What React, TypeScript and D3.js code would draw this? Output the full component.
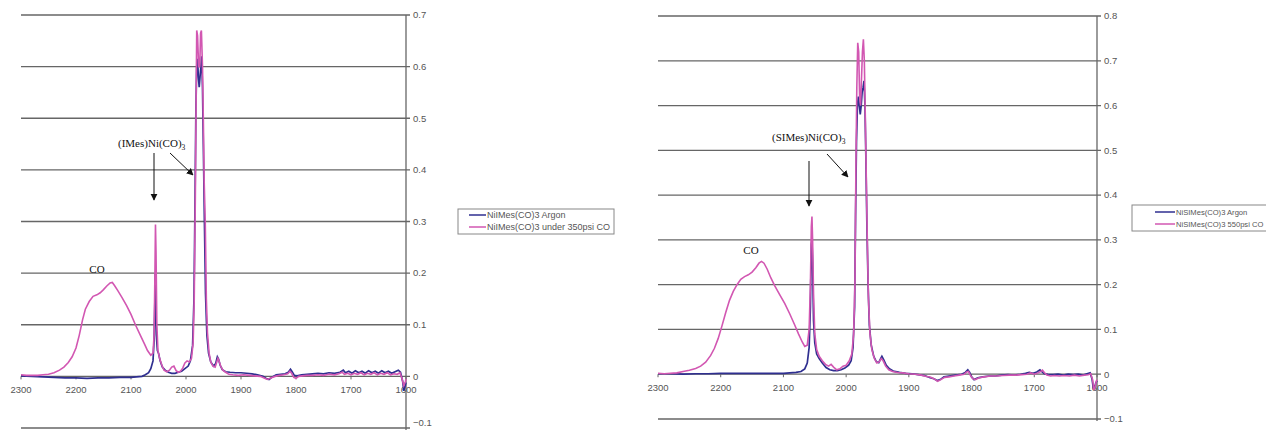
import React from 'react';
import * as d3 from 'd3';

type Pt = [number, number];

// wavenumber (cm-1), absorbance
const imesArgon: Pt[] = [
  [2300, 0.001], [2280, 0.0], [2260, -0.001], [2240, -0.002], [2220, -0.003], [2200, -0.003], [2180, -0.004],
  [2160, -0.003], [2140, -0.003], [2120, -0.002], [2100, -0.002], [2090, -0.001], [2080, 0.0], [2074, 0.003],
  [2068, 0.007], [2064, 0.015], [2060, 0.03], [2058, 0.07], [2056.5, 0.15], [2056, 0.2], [2055, 0.16],
  [2054, 0.08], [2052, 0.05], [2050, 0.045], [2047, 0.03], [2043, 0.018], [2038, 0.012], [2032, 0.008],
  [2026, 0.006], [2020, 0.006], [2014, 0.008], [2008, 0.01], [2002, 0.015], [1996, 0.02], [1992, 0.03],
  [1988, 0.06], [1985.5, 0.15], [1983.5, 0.35], [1982, 0.52], [1980.5, 0.6], [1979, 0.615], [1977.5, 0.58],
  [1976, 0.56], [1974.5, 0.58], [1973, 0.6], [1971.5, 0.62], [1970, 0.56], [1968.5, 0.45], [1966.5, 0.3],
  [1964.5, 0.16], [1962, 0.08], [1959, 0.045], [1955, 0.028], [1950, 0.02], [1946, 0.025], [1943, 0.038],
  [1941, 0.034], [1938, 0.022], [1934, 0.013], [1928, 0.009], [1920, 0.008], [1910, 0.007], [1900, 0.007],
  [1890, 0.006], [1880, 0.005], [1870, 0.003], [1860, 0.0], [1854, -0.004], [1849, -0.006], [1843, -0.001],
  [1836, 0.003], [1828, 0.004], [1820, 0.005], [1814, 0.008], [1810, 0.014], [1807, 0.009], [1803, 0.002],
  [1798, 0.001], [1790, 0.003], [1780, 0.004], [1770, 0.005], [1760, 0.006], [1750, 0.005], [1740, 0.007],
  [1730, 0.006], [1720, 0.008], [1714, 0.012], [1710, 0.007], [1704, 0.01], [1698, 0.006], [1692, 0.011],
  [1686, 0.007], [1680, 0.01], [1674, 0.006], [1668, 0.011], [1662, 0.007], [1656, 0.01], [1650, 0.006],
  [1644, 0.011], [1638, 0.007], [1632, 0.01], [1626, 0.006], [1620, 0.009], [1614, 0.012], [1610, 0.008],
  [1606, -0.01], [1604, -0.028], [1602, -0.02], [1600, -0.012],
];

const imesCO: Pt[] = [
  [2300, 0.003], [2290, 0.002], [2280, 0.002], [2270, 0.002], [2260, 0.003], [2250, 0.004], [2240, 0.007],
  [2230, 0.012], [2222, 0.018], [2214, 0.027], [2207, 0.038], [2200, 0.055], [2194, 0.08], [2188, 0.11],
  [2183, 0.13], [2176, 0.145], [2169, 0.155], [2162, 0.158], [2156, 0.162], [2150, 0.168], [2144, 0.175],
  [2138, 0.181], [2134, 0.182], [2130, 0.176], [2124, 0.166], [2116, 0.152], [2108, 0.137], [2100, 0.12],
  [2092, 0.1], [2084, 0.082], [2076, 0.064], [2070, 0.05], [2064, 0.041], [2060, 0.045], [2058, 0.08],
  [2056.5, 0.2], [2055.5, 0.294], [2054.5, 0.24], [2053, 0.1], [2051, 0.05], [2048, 0.035], [2044, 0.022],
  [2040, 0.012], [2035, 0.009], [2030, 0.012], [2026, 0.018], [2022, 0.02], [2018, 0.011], [2014, 0.008],
  [2010, 0.01], [2006, 0.016], [2002, 0.026], [1998, 0.03], [1994, 0.028], [1990, 0.035], [1987, 0.065],
  [1985, 0.15], [1983, 0.35], [1981.5, 0.55], [1980.5, 0.67], [1979, 0.66], [1977, 0.6], [1975, 0.6],
  [1973.5, 0.665], [1972, 0.67], [1970, 0.6], [1968.5, 0.5], [1967, 0.38], [1965, 0.3], [1963, 0.15],
  [1961, 0.085], [1958, 0.045], [1955, 0.028], [1951, 0.02], [1947, 0.018], [1944, 0.028], [1942, 0.035],
  [1940, 0.03], [1937, 0.02], [1933, 0.012], [1928, 0.008], [1922, 0.004], [1915, 0.003], [1905, 0.002],
  [1895, 0.003], [1885, 0.002], [1875, 0.001], [1865, 0.0], [1858, -0.003], [1852, -0.006], [1846, -0.003],
  [1838, 0.0], [1830, 0.002], [1822, 0.003], [1815, 0.005], [1811, 0.01], [1808, 0.006], [1804, -0.002],
  [1800, -0.004], [1795, 0.0], [1788, 0.001], [1780, 0.002], [1770, 0.002], [1760, 0.003], [1750, 0.002],
  [1740, 0.004], [1730, 0.003], [1722, 0.005], [1716, 0.008], [1712, 0.004], [1706, 0.006], [1700, 0.003],
  [1694, 0.006], [1688, 0.004], [1682, 0.007], [1676, 0.003], [1670, 0.006], [1664, 0.004], [1658, 0.007],
  [1652, 0.003], [1646, 0.006], [1640, 0.004], [1634, 0.007], [1628, 0.003], [1622, 0.005], [1616, 0.004],
  [1611, 0.007], [1607, -0.005], [1604, -0.018], [1601, -0.01], [1600, -0.005],
];

const simesArgon: Pt[] = [
  [2300, 0.001], [2280, 0.001], [2260, 0.0], [2240, 0.001], [2220, 0.001], [2200, 0.002], [2180, 0.002],
  [2160, 0.002], [2140, 0.002], [2120, 0.002], [2100, 0.002], [2090, 0.003], [2080, 0.004], [2072, 0.006],
  [2066, 0.012], [2062, 0.025], [2059, 0.06], [2057, 0.15], [2055.5, 0.29], [2054.5, 0.3], [2053.5, 0.25],
  [2052, 0.12], [2050, 0.07], [2047, 0.045], [2043, 0.035], [2038, 0.025], [2032, 0.015], [2026, 0.01],
  [2020, 0.008], [2014, 0.008], [2008, 0.01], [2002, 0.014], [1996, 0.02], [1992, 0.03], [1989, 0.06],
  [1986.5, 0.15], [1985, 0.35], [1983.5, 0.52], [1982, 0.6], [1980.5, 0.62], [1979, 0.6], [1977.5, 0.58],
  [1976, 0.6], [1974.5, 0.63], [1973, 0.64], [1971.5, 0.655], [1970, 0.6], [1968.5, 0.48], [1967, 0.34],
  [1965, 0.2], [1963, 0.11], [1960, 0.065], [1956, 0.04], [1952, 0.028], [1948, 0.026], [1945, 0.035],
  [1943, 0.04], [1940, 0.032], [1936, 0.02], [1931, 0.012], [1925, 0.007], [1915, 0.004], [1905, 0.002],
  [1895, 0.001], [1885, -0.001], [1875, -0.003], [1866, -0.008], [1860, -0.01], [1855, -0.014], [1850, -0.012],
  [1844, -0.006], [1836, -0.004], [1826, -0.002], [1816, 0.0], [1810, 0.004], [1806, 0.01], [1803, 0.004],
  [1800, -0.006], [1796, -0.012], [1790, -0.008], [1782, -0.006], [1772, -0.004], [1762, -0.004], [1752, -0.002],
  [1742, -0.001], [1732, -0.002], [1722, 0.0], [1714, 0.002], [1708, 0.004], [1702, 0.002], [1696, 0.005],
  [1691, 0.01], [1688, 0.006], [1684, 0.001], [1678, 0.0], [1670, -0.001], [1662, 0.0], [1654, -0.002],
  [1646, 0.0], [1638, -0.001], [1630, 0.0], [1622, -0.002], [1616, 0.001], [1611, 0.003], [1608, -0.01],
  [1606, -0.03], [1604, -0.032], [1602, -0.02], [1600, -0.015],
];

const simesCO: Pt[] = [
  [2300, 0.002], [2290, 0.001], [2280, 0.002], [2270, 0.003], [2260, 0.006], [2250, 0.009], [2240, 0.013],
  [2232, 0.018], [2224, 0.027], [2216, 0.042], [2210, 0.058], [2204, 0.08], [2198, 0.108], [2192, 0.138],
  [2186, 0.165], [2180, 0.185], [2174, 0.2], [2168, 0.212], [2162, 0.218], [2156, 0.222], [2150, 0.228],
  [2144, 0.238], [2139, 0.248], [2135, 0.252], [2131, 0.248], [2126, 0.235], [2120, 0.215], [2114, 0.198],
  [2106, 0.178], [2098, 0.158], [2090, 0.135], [2082, 0.11], [2076, 0.09], [2070, 0.072], [2066, 0.062],
  [2062, 0.065], [2059, 0.1], [2057, 0.2], [2055.5, 0.33], [2054.5, 0.352], [2053.5, 0.3], [2052, 0.18],
  [2050, 0.09], [2047, 0.055], [2043, 0.04], [2038, 0.03], [2033, 0.022], [2028, 0.018], [2024, 0.022],
  [2020, 0.016], [2015, 0.01], [2010, 0.012], [2005, 0.018], [2000, 0.02], [1995, 0.03], [1991, 0.045],
  [1988, 0.09], [1986, 0.2], [1984.5, 0.45], [1983, 0.64], [1981.5, 0.74], [1980, 0.72], [1978.5, 0.62],
  [1977, 0.6], [1975.5, 0.66], [1974, 0.72], [1972.5, 0.748], [1971, 0.7], [1969.5, 0.58], [1968, 0.45],
  [1966.5, 0.32], [1964.5, 0.17], [1962, 0.09], [1959, 0.055], [1955, 0.035], [1951, 0.025], [1947, 0.028],
  [1944, 0.035], [1941, 0.03], [1937, 0.018], [1932, 0.01], [1926, 0.006], [1918, 0.004], [1910, 0.003],
  [1900, 0.001], [1890, 0.0], [1880, -0.002], [1872, -0.005], [1866, -0.006], [1860, -0.01], [1854, -0.016],
  [1849, -0.012], [1843, -0.007], [1836, -0.006], [1828, -0.004], [1820, -0.002], [1812, 0.0], [1808, 0.005],
  [1805, 0.006], [1802, -0.002], [1798, -0.01], [1794, -0.012], [1788, -0.008], [1780, -0.006], [1770, -0.004],
  [1760, -0.004], [1750, -0.003], [1740, -0.002], [1730, -0.002], [1720, -0.001], [1712, 0.0], [1706, 0.003],
  [1700, 0.0], [1694, 0.003], [1690, 0.006], [1687, 0.009], [1684, 0.004], [1680, -0.002], [1674, -0.004],
  [1668, -0.003], [1660, -0.004], [1652, -0.003], [1644, -0.004], [1636, -0.002], [1628, -0.004], [1620, -0.002],
  [1614, -0.001], [1610, 0.001], [1607, -0.012], [1605, -0.035], [1603, -0.028], [1601, -0.015], [1600, -0.012],
];

const xTicks = [2300, 2200, 2100, 2000, 1900, 1800, 1700, 1600];
const leftYTicks = [0.7, 0.6, 0.5, 0.4, 0.3, 0.2, 0.1, 0, -0.1];
const rightYTicks = [0.8, 0.7, 0.6, 0.5, 0.4, 0.3, 0.2, 0.1, 0, -0.1];

const leftLegend = ['NiIMes(CO)3 Argon', 'NiIMes(CO)3 under 350psi CO'];
const rightLegend = ['NiSIMes(CO)3 Argon', 'NiSIMes(CO)3 550psi CO'];

const BLUE = '#2f2f90';
const PINK = '#d257b2';
const GRID = '#666';
const LABEL = '#555';

type PanelProps = {
  x0: number; x1: number; yTop: number; yBot: number; yMax: number;
  yTicks: number[]; argon: Pt[]; co: Pt[];
  title: string; titleX: number; titleY: number;
  downArrow: [number, number, number, number];
  diagArrow: [number, number, number, number];
  coX: number; coY: number;
  legend: string[]; legendBox: [number, number, number, number];
  legendLine: [number, number]; legendRows: [number, number]; legendSize: number;
};

function Panel(p: PanelProps) {
  const x = d3.scaleLinear().domain([2300, 1600]).range([p.x0, p.x1]);
  const y = d3.scaleLinear().domain([p.yMax, -0.1]).range([p.yTop, p.yBot]);
  const line = d3.line<Pt>().x(d => x(d[0])).y(d => y(d[1]));
  const fmt = (v: number) => (v === 0 ? '0' : d3.format('.1f')(v));

  return (
    <g>
      {p.yTicks.map(t => (
        <g key={t}>
          <line x1={p.x0} x2={p.x1 + 4} y1={y(t)} y2={y(t)} stroke={GRID} strokeWidth={1.3} />
          <text x={p.x1 + 7} y={Math.min(y(t), 423)} dy="0.35em" fontSize={9.5} fill={LABEL}
            fontFamily="'Liberation Sans', Arial, sans-serif">{fmt(t)}</text>
        </g>
      ))}
      <line x1={p.x1} x2={p.x1} y1={p.yTop} y2={p.yBot + 2} stroke={GRID} strokeWidth={1.3} />
      {xTicks.map(t => (
        <g key={t}>
          <line x1={x(t)} x2={x(t)} y1={y(0)} y2={y(0) + 3} stroke={GRID} />
          <text x={x(t)} y={y(0) + 17} textAnchor="middle" fontSize={9.5} fill={LABEL}
            fontFamily="'Liberation Sans', Arial, sans-serif">{t}</text>
        </g>
      ))}
      <path d={line(p.argon) ?? ''} fill="none" stroke={BLUE} strokeWidth={1.7} />
      <path d={line(p.co) ?? ''} fill="none" stroke={PINK} strokeWidth={1.6} />

      <g fontFamily="'Liberation Serif', 'Times New Roman', serif" fill="#111">
        <text x={p.titleX} y={p.titleY} fontSize={11}>
          ({p.title === 'I' ? 'IMes' : 'SIMes'})Ni(CO)<tspan dy={3} fontSize={7.5}>3</tspan>
        </text>
        <text x={p.coX} y={p.coY} fontSize={11} textAnchor="middle">CO</text>
      </g>
      {[p.downArrow, p.diagArrow].map((a, i) => (
        <line key={i} x1={a[0]} y1={a[1]} x2={a[2]} y2={a[3]} stroke="#111" strokeWidth={1}
          markerEnd="url(#arrowHead)" />
      ))}

      <rect x={p.legendBox[0]} y={p.legendBox[1]} width={p.legendBox[2]} height={p.legendBox[3]}
        fill="#fff" stroke="#888" strokeWidth={1} />
      {p.legend.map((name, i) => (
        <g key={name}>
          <line x1={p.legendLine[0]} x2={p.legendLine[1]} y1={p.legendRows[i]} y2={p.legendRows[i]}
            stroke={i === 0 ? BLUE : PINK} strokeWidth={1.5} />
          <text x={p.legendLine[1] + 1} y={p.legendRows[i]} dy="0.35em" fontSize={p.legendSize} fill={LABEL}
            fontFamily="'Liberation Sans', Arial, sans-serif">{name}</text>
        </g>
      ))}
    </g>
  );
}

export default function App() {
  return (
    <svg width={1266} height={430} style={{ position: 'absolute', left: 0, top: 0, background: '#fff' }}>
      <defs>
        <marker id="arrowHead" viewBox="0 0 10 10" refX={9} refY={5} markerWidth={7} markerHeight={8}
          orient="auto" markerUnits="userSpaceOnUse">
          <path d="M0,0 L10,5 L0,10 z" fill="#111" />
        </marker>
      </defs>
      <rect width={1266} height={430} fill="#fff" />
      <Panel
        x0={21} x1={406} yTop={15} yBot={428} yMax={0.7} yTicks={leftYTicks}
        argon={imesArgon} co={imesCO}
        title="I" titleX={118} titleY={147}
        downArrow={[154, 153, 154, 200]} diagArrow={[170, 153, 193, 175]}
        coX={97} coY={273}
        legend={leftLegend} legendBox={[458, 209, 156, 25]} legendLine={[469, 486]} legendRows={[215, 227]}
        legendSize={9}
      />
      <Panel
        x0={658} x1={1097} yTop={16} yBot={419} yMax={0.8} yTicks={rightYTicks}
        argon={simesArgon} co={simesCO}
        title="S" titleX={772} titleY={141}
        downArrow={[809, 161, 809, 206]} diagArrow={[827, 154, 848, 177]}
        coX={751} coY={254}
        legend={rightLegend} legendBox={[1132, 205, 140, 26]} legendLine={[1155, 1175]} legendRows={[212, 224]}
        legendSize={7.6}
      />
    </svg>
  );
}
